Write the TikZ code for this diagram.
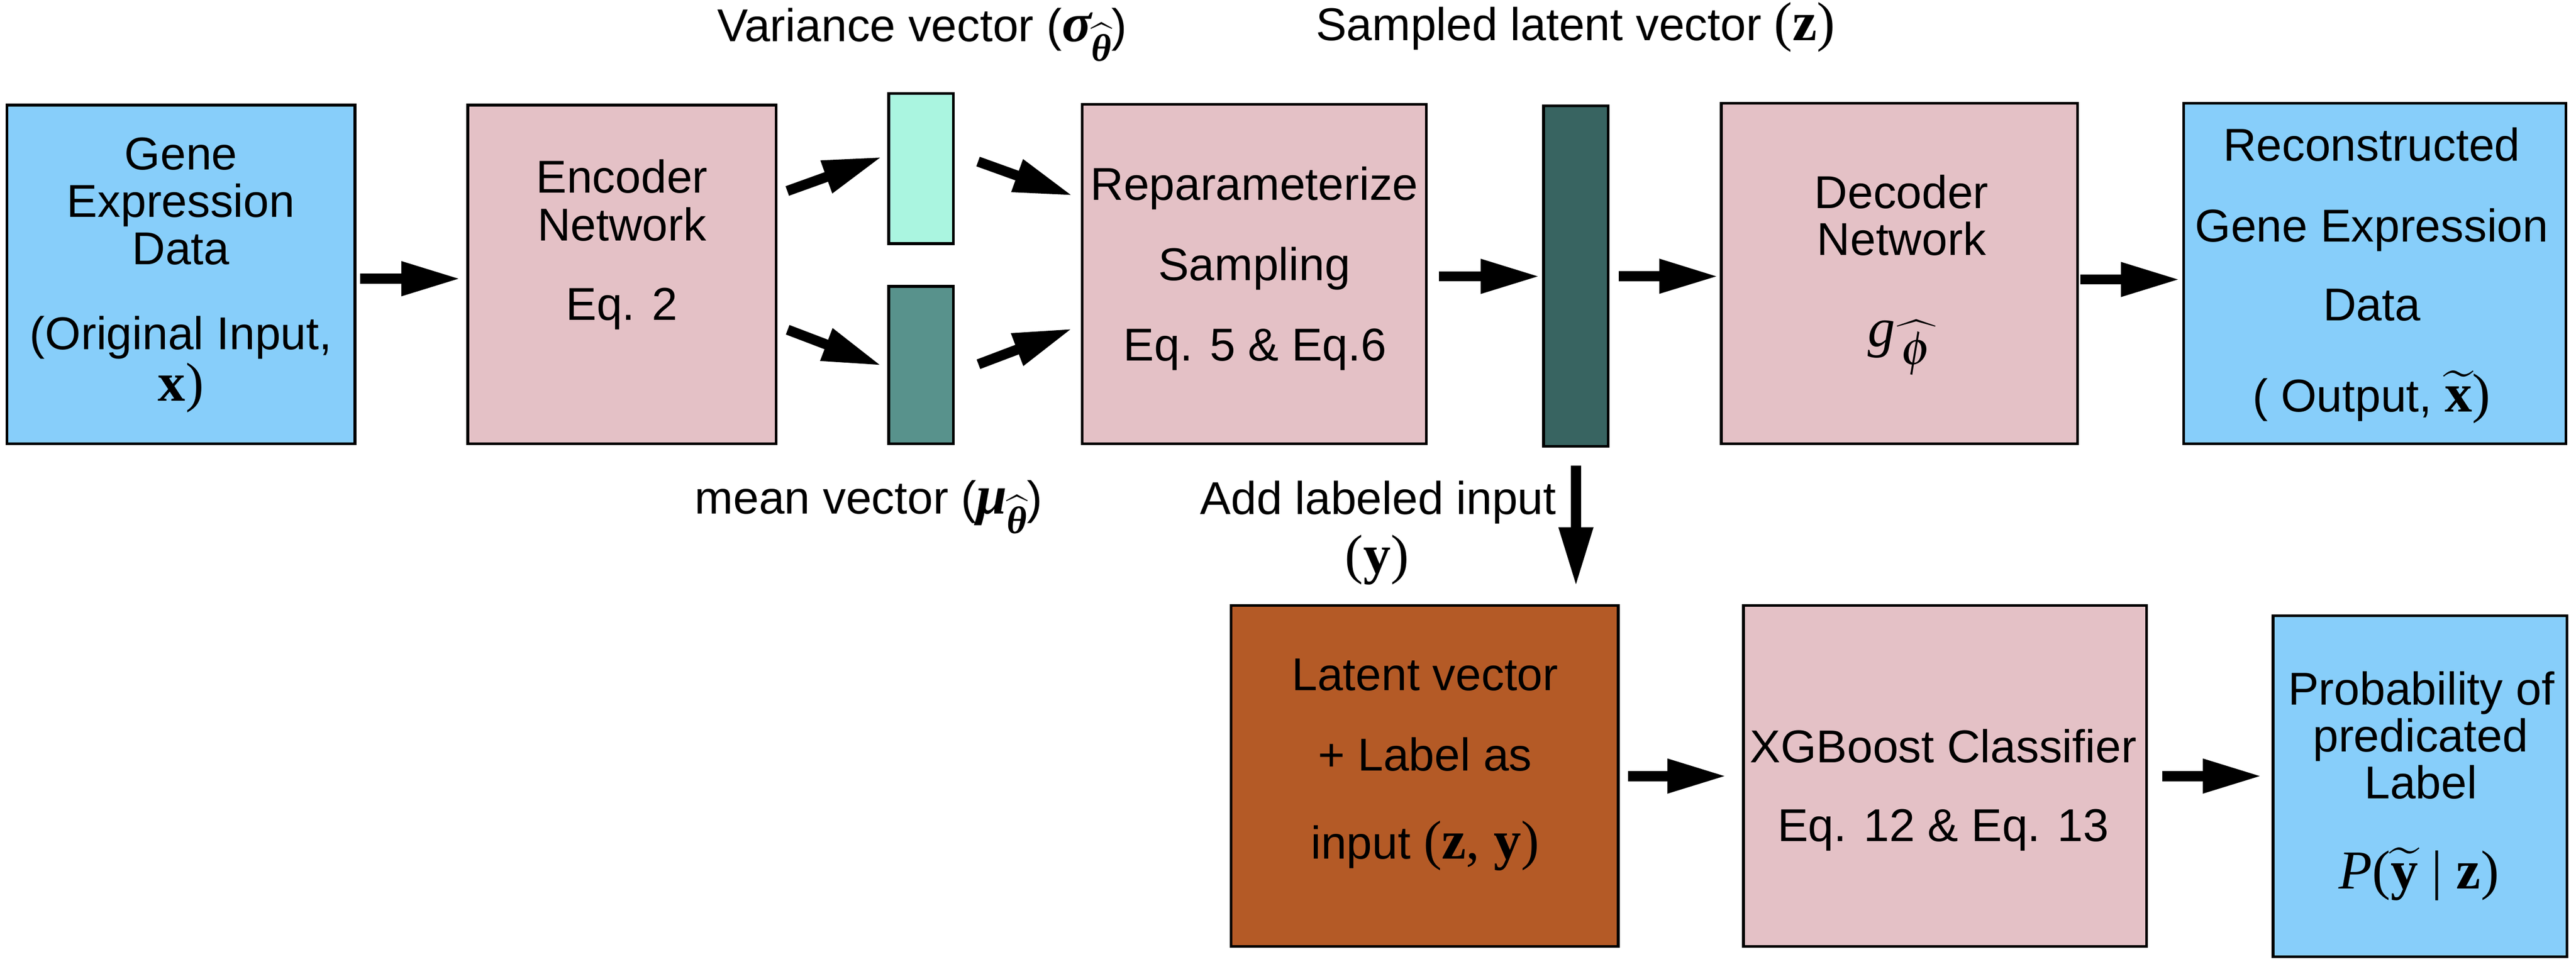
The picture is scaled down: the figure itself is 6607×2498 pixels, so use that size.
\documentclass[tikz,border=0pt]{standalone}
\usepackage{amsmath}
\usepackage{mathptmx}
\usepackage[no-math]{fontspec}
\setmainfont{Liberation Sans}
\newfontfamily\ser{Liberation Serif}
\newcommand{\msz}{\fontsize{40}{36}\selectfont}
\newcommand{\tsz}{\fontsize{10}{12}\selectfont}
\newcommand{\bser}[1]{{\msz\ser\bfseries #1}}
\newcommand{\pser}[1]{{\msz\ser #1}}
% accents built at 10pt and scaled, so accent and letter keep their ratio
\newcommand{\bighat}[2]{\scalebox{#1}{\tsz$\widehat{\hbox{#2}}$}}
\newcommand{\bigtil}[2]{\scalebox{#1}{\tsz$\widetilde{\hbox{#2}}$}}
\usetikzlibrary{arrows.meta}
\definecolor{cblue}{RGB}{135,206,250}
\definecolor{cpink}{RGB}{228,193,198}
\definecolor{caqua}{RGB}{170,245,224}
\definecolor{cteal}{RGB}{88,146,140}
\definecolor{cdark}{RGB}{56,100,97}
\definecolor{cbrown}{RGB}{180,90,38}
\begin{document}
\begin{tikzpicture}[x=0.01cm,y=-0.01cm,
  box/.style={draw=black, line width=2pt, inner sep=0pt, outer sep=0pt},
  txt/.style={inner sep=0pt, anchor=base, font=\fontsize{33.6}{36}\selectfont},
  blk/.style={line width=0.26cm, -{Triangle[length=1.52cm,width=0.82cm]}},
]
\useasboundingbox (0,0) rectangle (6607,2498);
\fill[white] (0,0) rectangle (6607,2498);

% boxes
\node[box, fill=cblue, minimum width=8.92cm, minimum height=8.68cm] (gene) at (464,704) {};
\node[box, fill=cpink, minimum width=7.90cm, minimum height=8.68cm] (enc) at (1595,704) {};
\node[box, fill=caqua, minimum width=1.66cm, minimum height=3.85cm] (var) at (2362.5,432.5) {};
\node[box, fill=cteal, minimum width=1.66cm, minimum height=4.03cm] (mean) at (2362.5,936.5) {};
\node[box, fill=cpink, minimum width=8.82cm, minimum height=8.70cm] (rep) at (3217,703) {};
\node[box, fill=cdark, minimum width=1.66cm, minimum height=8.73cm] (zvec) at (4042,708.5) {};
\node[box, fill=cpink, minimum width=9.13cm, minimum height=8.73cm] (dec) at (4871.5,701.5) {};
\node[box, fill=cblue, minimum width=9.80cm, minimum height=8.73cm] (out) at (6091,701.5) {};
\node[box, fill=cbrown, minimum width=9.92cm, minimum height=8.74cm] (lat) at (3654,1991) {};
\node[box, fill=cpink, minimum width=10.33cm, minimum height=8.74cm] (xgb) at (4988.5,1991) {};
\node[box, fill=cblue, minimum width=7.54cm, minimum height=8.74cm] (prob) at (6207,2017) {};

% texts in boxes
\node[txt] (gene1) at (464,435) {Gene};
\node[txt] (gene2) at (464,557) {Expression};
\node[txt] (gene3) at (464,678) {Data};
\node[txt] (gene4) at (464,897) {(Original Input,};
\node[txt] (gene5) at (464,1029) {\bser{x}\pser{)}};

\node[txt] (enc1) at (1595,495) {Encoder};
\node[txt] (enc2) at (1595,618) {Network};
\node[txt] (enc3) at (1595,821) {Eq. 2};

\node[txt] (rep1) at (3217,514) {Reparameterize};
\node[txt] (rep2) at (3217,719) {Sampling};
\node[txt] (rep3) at (3219,926) {Eq. 5 \& Eq.6};

\node[txt] (dec1) at (4877,535) {Decoder};
\node[txt] (dec2) at (4877,655) {Network};
\node[txt] (dec3) at (4877,888) {{\msz\ser\itshape g}\kern0.05cm\raisebox{-0.47cm}{\scalebox{2.8}{\tsz$\widehat{\hbox to 10pt{\hss\scalebox{1.25}{$\boldsymbol{\phi}$}\hss}}$}}};

\node[txt] (out1) at (6083,413) {Reconstructed};
\node[txt] (out2) at (6083,620) {Gene Expression};
\node[txt] (out3) at (6083,823) {Data};
\node[txt] (out4) at (6083,1056) {( Output, \bigtil{4}{\ser\bfseries x}\pser{)}};

\node[txt] (lat1) at (3655,1771) {Latent vector};
\node[txt] (lat2) at (3655,1977) {+ Label as};
\node[txt] (lat3) at (3655,2203) {input \pser{(\textbf{z}, \textbf{y})}};

\node[txt] (xgb1) at (4984,1956) {XGBoost Classifier};
\node[txt] (xgb2) at (4984,2158) {Eq. 12 \& Eq. 13};

\node[txt] (prob1) at (6210,1808) {Probability of};
\node[txt] (prob2) at (6208,1928) {predicated};
\node[txt] (prob3) at (6209,2049) {Label};
\node[txt] (prob4) at (6204,2280) {{\msz\ser\itshape P\/\upshape(}\bigtil{4}{\ser\bfseries y}\pser{ | \textbf{z})}};

% outside labels
\node[txt] (varlab) at (2365,106) {Variance vector ({\msz\ser\bfseries\itshape σ}\raisebox{-0.5cm}{\bighat{2.8}{\ser\bfseries\itshape θ}})};
\node[txt] (meanlab) at (2228,1318) {mean vector ({\msz\ser\bfseries\itshape μ}\raisebox{-0.5cm}{\bighat{2.8}{\ser\bfseries\itshape θ}})};
\node[txt] (zlab) at (4041,104) {Sampled latent vector \pser{(\textbf{z})}};
\node[txt] (addlab1) at (3535,1320) {Add labeled input};
\node[txt] (addlab2) at (3532,1470) {\pser{(\textbf{y})}};

% arrows
\draw[blk, shorten <=0.13cm, shorten >=0.18cm] ([yshift=-0.11cm]gene.east) -- ([yshift=-0.11cm]enc.west);
\draw[blk] ([shift={(29,-214)}]enc.east) -- ([shift={(-17,-30)}]var.west);
\draw[blk] ([shift={(30,142)}]enc.east) -- ([shift={(-18,1.5)}]mean.west);
\draw[blk] ([shift={(63,-18)}]var.east) -- ([shift={(-24,-201)}]rep.west);
\draw[blk] ([shift={(64,-2)}]mean.east) -- ([shift={(-25,140)}]rep.west);
\draw[blk] ([shift={(32,6)}]rep.east) -- ([shift={(-9,0.5)}]zvec.west);
\draw[blk] ([shift={(27,0)}]zvec.east) -- ([shift={(-7,7.5)}]dec.west);
\draw[blk] ([shift={(7,15.5)}]dec.east) -- ([shift={(-9,15.5)}]out.west);
\draw[blk, shorten <=0.49cm, shorten >=0.49cm] (zvec.south) -- (zvec.south |- lat.north);
\draw[blk, shorten <=0.25cm, shorten >=0.43cm] (lat.east) -- (xgb.west);
\draw[blk, shorten <=0.41cm, shorten >=0.28cm] (xgb.east) -- (xgb.east -| prob.west);
\end{tikzpicture}
\end{document}
